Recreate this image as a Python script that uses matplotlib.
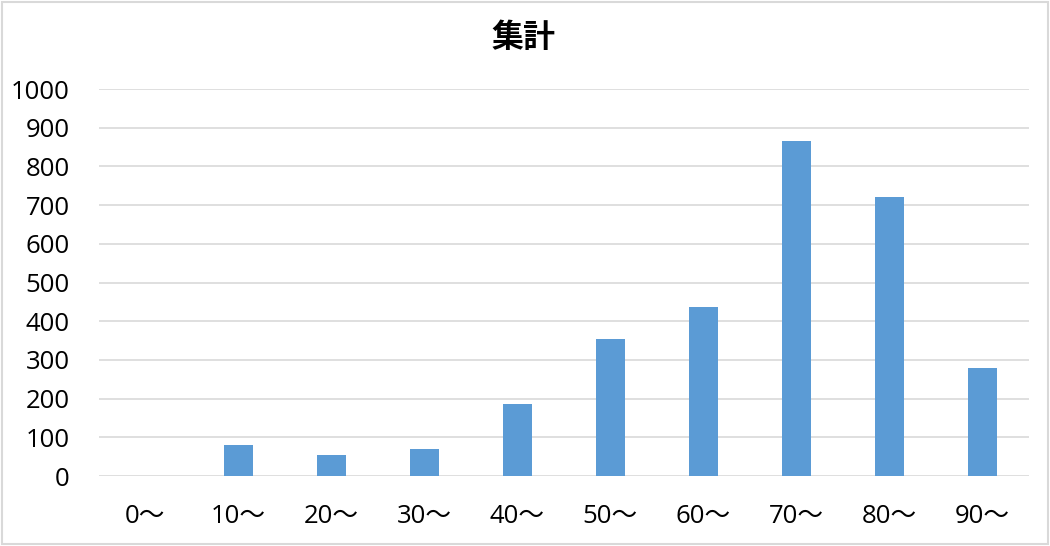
import matplotlib.pyplot as plt
from matplotlib.patches import Rectangle

# data
categories = ["0～", "10～", "20～", "30～", "40～", "50～", "60～", "70～", "80～", "90～"]
counts = [0, 81, 54, 69, 186, 354, 438, 867, 721, 280]
yticks = list(range(0, 1001, 100))

plt.rcParams['font.family'] = ['Open Sans', 'Noto Sans CJK JP', 'DejaVu Sans']

fig = plt.figure(figsize=(10.5, 5.46), dpi=100)
ax = fig.add_axes([0.0943, 0.1282, 0.8853, 0.7086])

x = list(range(len(categories)))
ax.bar(x, counts, width=0.31, color='#5b9bd5', zorder=3)

ax.set_xlim(-0.5, len(categories) - 0.5)
ax.set_ylim(0, 1000)
ax.set_yticks(yticks)
ax.set_xticks(x)
ax.set_xticklabels(categories)
ax.grid(axis='y', color='#d9d9d9', linewidth=1.2, zorder=0)
for s in ax.spines.values():
    s.set_visible(False)
ax.tick_params(axis='both', length=0, labelsize=18.5, colors='black')
ax.tick_params(axis='y', pad=21)
ax.tick_params(axis='x', pad=20)

fig.text(0.499, 0.931, "集計", ha='center', va='center', fontsize=23,
         fontweight='bold', family=['Noto Sans CJK JP'])

# outer border of the chart
fig.patches.append(Rectangle((0.002, 0.003), 0.996, 0.994, transform=fig.transFigure,
                             fill=False, edgecolor='#d9d9d9', linewidth=1.5))

plt.savefig("out.png", dpi=100)
